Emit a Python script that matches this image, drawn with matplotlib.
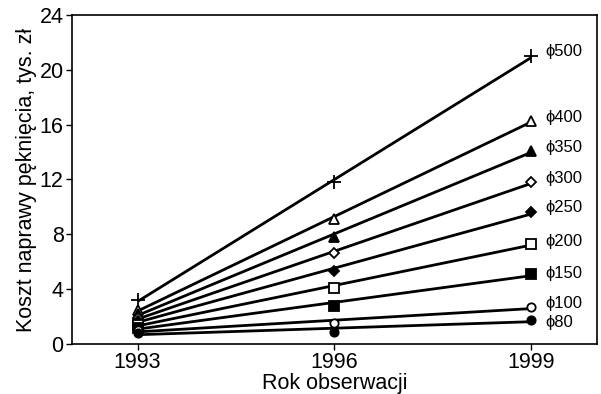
import numpy as np
import matplotlib
matplotlib.use("Agg")
import matplotlib.pyplot as plt

plt.rcParams['font.family'] = ['Liberation Sans', 'DejaVu Sans']

# Observation years and repair cost (thousand PLN) per pipe diameter
years = np.array([1993, 1996, 1999])
diameters = ["500", "400", "350", "300", "250", "200", "150", "100", "80"]
cost_500 = [3.2, 11.8, 21.0]
cost_400 = [2.5, 9.1, 16.3]
cost_350 = [2.2, 7.8, 14.1]
cost_300 = [1.9, 6.6, 11.8]
cost_250 = [1.7, 5.3, 9.6]
cost_200 = [1.4, 4.1, 7.3]
cost_150 = [1.2, 2.8, 5.1]
cost_100 = [1.0, 1.5, 2.7]
cost_80 = [0.8, 0.9, 1.75]

series = [cost_500, cost_400, cost_350, cost_300, cost_250,
          cost_200, cost_150, cost_100, cost_80]
markers = [("+", "k"), ("^", "w"), ("^", "k"), ("D", "w"), ("D", "k"),
           ("s", "w"), ("s", "k"), ("o", "w"), ("o", "k")]
sizes = [10, 7, 7, 5, 5, 6.5, 6.5, 6, 6]
# vertical nudge of the end labels, in points
label_dy = [3.5, 2.5, 2.5, 3, 3.5, 1.5, 0.5, 2.5, -1.5]

fig = plt.figure(figsize=(6.01, 3.94), dpi=100)
ax = fig.add_axes([0.1198, 0.127, 0.8735, 0.835])

for name, vals, (m, fc), ms, dy in zip(diameters, series, markers, sizes, label_dy):
    vals = np.array(vals)
    # straight-line trend through the three observations
    k, b = np.polyfit(years, vals, 1)
    ax.plot(years[[0, -1]], k * years[[0, -1]] + b, color="k", lw=2.0,
            solid_capstyle="butt", zorder=2)
    ax.plot(years, vals, ls="none", marker=m, ms=ms, mfc=fc, mec="k",
            mew=1.3, zorder=3)
    ax.annotate("\u03d5" + name, (years[-1], vals[-1]), xytext=(10, dy),
                textcoords="offset points", va="center", ha="left",
                fontsize=12)

ax.set_xlim(1992, 2000)
ax.set_ylim(0, 24)
ax.set_xticks([1993, 1996, 1999])
ax.set_yticks(range(0, 25, 4))
ax.tick_params(labelsize=15.5, direction="out", length=4, width=1, pad=2)
for s in ax.spines.values():
    s.set_linewidth(1.2)
ax.set_xlabel("Rok obserwacji", fontsize=15.5, labelpad=0)
ax.set_ylabel("Koszt naprawy pęknięcia, tys. zł", fontsize=15.5, labelpad=2)

fig.savefig("out.png", dpi=100)
